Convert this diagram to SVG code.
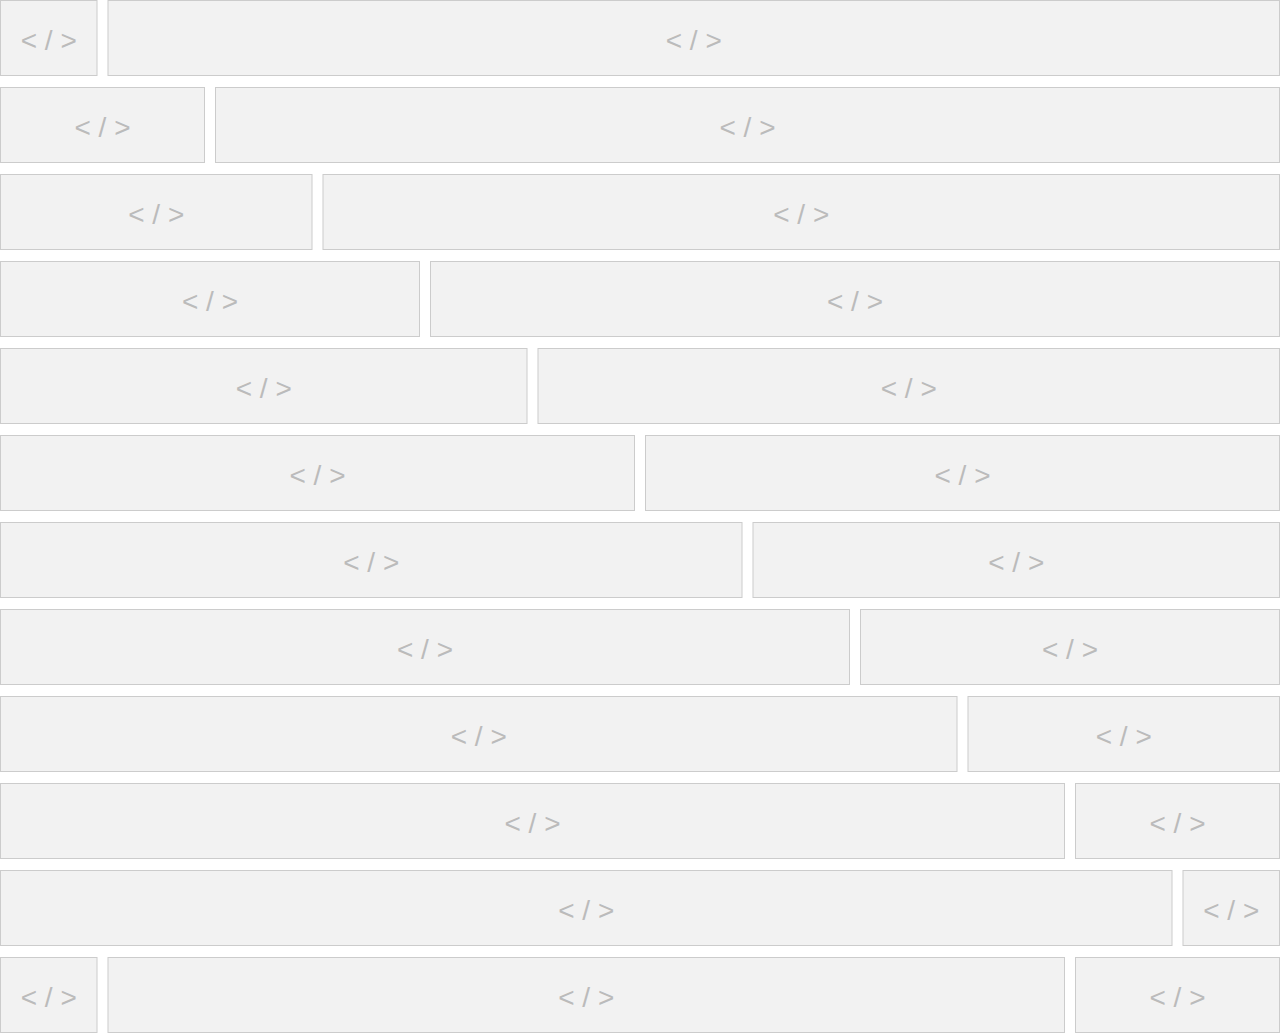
<svg xmlns="http://www.w3.org/2000/svg" width="1280" height="1034" viewBox="0 0 1280 1034">
<style>
.b rect{fill:#f2f2f2;stroke:#cccccc;stroke-width:1}
.b text{font-family:"Liberation Sans",Arial,sans-serif;font-size:28px;fill:#bbbbbb;text-anchor:middle}
</style>
<rect width="1280" height="1034" fill="#ffffff"/>
<g id="r1a" class="b"><rect x="0.5" y="0.5" width="96.5" height="75"/><text x="48.75" y="50">&lt; / &gt;</text></g>
<g id="r1b" class="b"><rect x="108" y="0.5" width="1171.5" height="75"/><text x="693.75" y="50">&lt; / &gt;</text></g>
<g id="r2a" class="b"><rect x="0.5" y="87.5" width="204" height="75"/><text x="102.5" y="137">&lt; / &gt;</text></g>
<g id="r2b" class="b"><rect x="215.5" y="87.5" width="1064" height="75"/><text x="747.5" y="137">&lt; / &gt;</text></g>
<g id="r3a" class="b"><rect x="0.5" y="174.5" width="311.5" height="75"/><text x="156.25" y="224">&lt; / &gt;</text></g>
<g id="r3b" class="b"><rect x="323" y="174.5" width="956.5" height="75"/><text x="801.25" y="224">&lt; / &gt;</text></g>
<g id="r4a" class="b"><rect x="0.5" y="261.5" width="419" height="75"/><text x="210" y="311">&lt; / &gt;</text></g>
<g id="r4b" class="b"><rect x="430.5" y="261.5" width="849" height="75"/><text x="855" y="311">&lt; / &gt;</text></g>
<g id="r5a" class="b"><rect x="0.5" y="348.5" width="526.5" height="75"/><text x="263.75" y="398">&lt; / &gt;</text></g>
<g id="r5b" class="b"><rect x="538" y="348.5" width="741.5" height="75"/><text x="908.75" y="398">&lt; / &gt;</text></g>
<g id="r6a" class="b"><rect x="0.5" y="435.5" width="634" height="75"/><text x="317.5" y="485">&lt; / &gt;</text></g>
<g id="r6b" class="b"><rect x="645.5" y="435.5" width="634" height="75"/><text x="962.5" y="485">&lt; / &gt;</text></g>
<g id="r7a" class="b"><rect x="0.5" y="522.5" width="741.5" height="75"/><text x="371.25" y="572">&lt; / &gt;</text></g>
<g id="r7b" class="b"><rect x="753" y="522.5" width="526.5" height="75"/><text x="1016.25" y="572">&lt; / &gt;</text></g>
<g id="r8a" class="b"><rect x="0.5" y="609.5" width="849" height="75"/><text x="425" y="659">&lt; / &gt;</text></g>
<g id="r8b" class="b"><rect x="860.5" y="609.5" width="419" height="75"/><text x="1070" y="659">&lt; / &gt;</text></g>
<g id="r9a" class="b"><rect x="0.5" y="696.5" width="956.5" height="75"/><text x="478.75" y="746">&lt; / &gt;</text></g>
<g id="r9b" class="b"><rect x="968" y="696.5" width="311.5" height="75"/><text x="1123.75" y="746">&lt; / &gt;</text></g>
<g id="r10a" class="b"><rect x="0.5" y="783.5" width="1064" height="75"/><text x="532.5" y="833">&lt; / &gt;</text></g>
<g id="r10b" class="b"><rect x="1075.5" y="783.5" width="204" height="75"/><text x="1177.5" y="833">&lt; / &gt;</text></g>
<g id="r11a" class="b"><rect x="0.5" y="870.5" width="1171.5" height="75"/><text x="586.25" y="920">&lt; / &gt;</text></g>
<g id="r11b" class="b"><rect x="1183" y="870.5" width="96.5" height="75"/><text x="1231.25" y="920">&lt; / &gt;</text></g>
<g id="r12a" class="b"><rect x="0.5" y="957.5" width="96.5" height="75"/><text x="48.75" y="1007">&lt; / &gt;</text></g>
<g id="r12b" class="b"><rect x="108" y="957.5" width="956.5" height="75"/><text x="586.25" y="1007">&lt; / &gt;</text></g>
<g id="r12c" class="b"><rect x="1075.5" y="957.5" width="204" height="75"/><text x="1177.5" y="1007">&lt; / &gt;</text></g>
<g id="connectors"></g>
</svg>
